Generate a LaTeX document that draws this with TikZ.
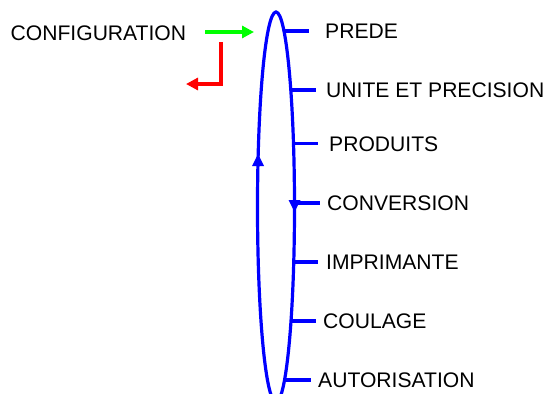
\documentclass[tikz,border=0pt]{standalone}
\usepackage{fontspec}
\setmainfont{Liberation Sans}
\usetikzlibrary{arrows.meta}
\definecolor{lblue}{RGB}{0,0,255}
\definecolor{lgreen}{RGB}{0,255,0}
\definecolor{lred}{RGB}{255,0,0}
\begin{document}
\begin{tikzpicture}[x=1pt,y=-1pt,
  lbl/.style={anchor=base west,inner sep=0pt,font=\fontsize{21.1}{25}\selectfont},
  bline/.style={draw=lblue,line width=3.2pt},
  tick/.style={draw=lblue,line width=3.2pt},
  garrow/.style={draw=lgreen,line width=3.2pt,-{Triangle[length=12pt,width=12pt]}},
  rarrow/.style={draw=lred,line width=3.2pt,-{Triangle[length=12pt,width=12pt]}},
  bhead/.style={fill=lblue}]
\useasboundingbox (0,0) rectangle (547,394);
\begin{scope}
\clip (0,0) rectangle (547,394);
\draw[bline] (276,207) ellipse [x radius=18.5, y radius=195];
\end{scope}
% arrow heads on the loop
\fill[bhead] (258,154) -- (252,166) -- (264,166) -- cycle;
\fill[bhead] (294.5,212) -- (288.5,200) -- (300.5,200) -- cycle;
% left labels and arrows
\node[lbl] (conf) at (10.5,40) {CONFIGURATION};
\coordinate (gs) at (205,32);
\coordinate (ge) at (254,32);
\draw[garrow] (gs) -- (ge);
\coordinate (rs) at (221,42);
\coordinate (re) at (186,84);
\draw[rarrow] (rs) |- (re);
% labels
\node[lbl] (l1) at (325,38.5) {PREDE};
\node[lbl] (l2) at (326,97.5) {UNITE ET PRECISION};
\node[lbl] (l3) at (329,151) {PRODUITS};
\node[lbl] (l4) at (327,210.5) {CONVERSION};
\node[lbl] (l5) at (326,269.5) {IMPRIMANTE};
\node[lbl] (l6) at (323,328.5) {COULAGE};
\node[lbl] (l7) at (318,387.5) {AUTORISATION};
% ticks
\coordinate (e1) at (284,31);   \coordinate (t1) at (309,31);
\coordinate (e2) at (290.8,90); \coordinate (t2) at (316,90);
\coordinate (e3) at (293.5,143.5); \coordinate (t3) at (318,143.5);
\coordinate (e4) at (294.5,203); \coordinate (t4) at (320,203);
\coordinate (e5) at (293.7,262); \coordinate (t5) at (318,262);
\coordinate (e6) at (291,321); \coordinate (t6) at (316,321);
\coordinate (e7) at (284.5,380); \coordinate (t7) at (311,380);
\foreach \i in {1,...,7} {\draw[tick] (e\i) -- (t\i);}
\end{tikzpicture}
\end{document}
